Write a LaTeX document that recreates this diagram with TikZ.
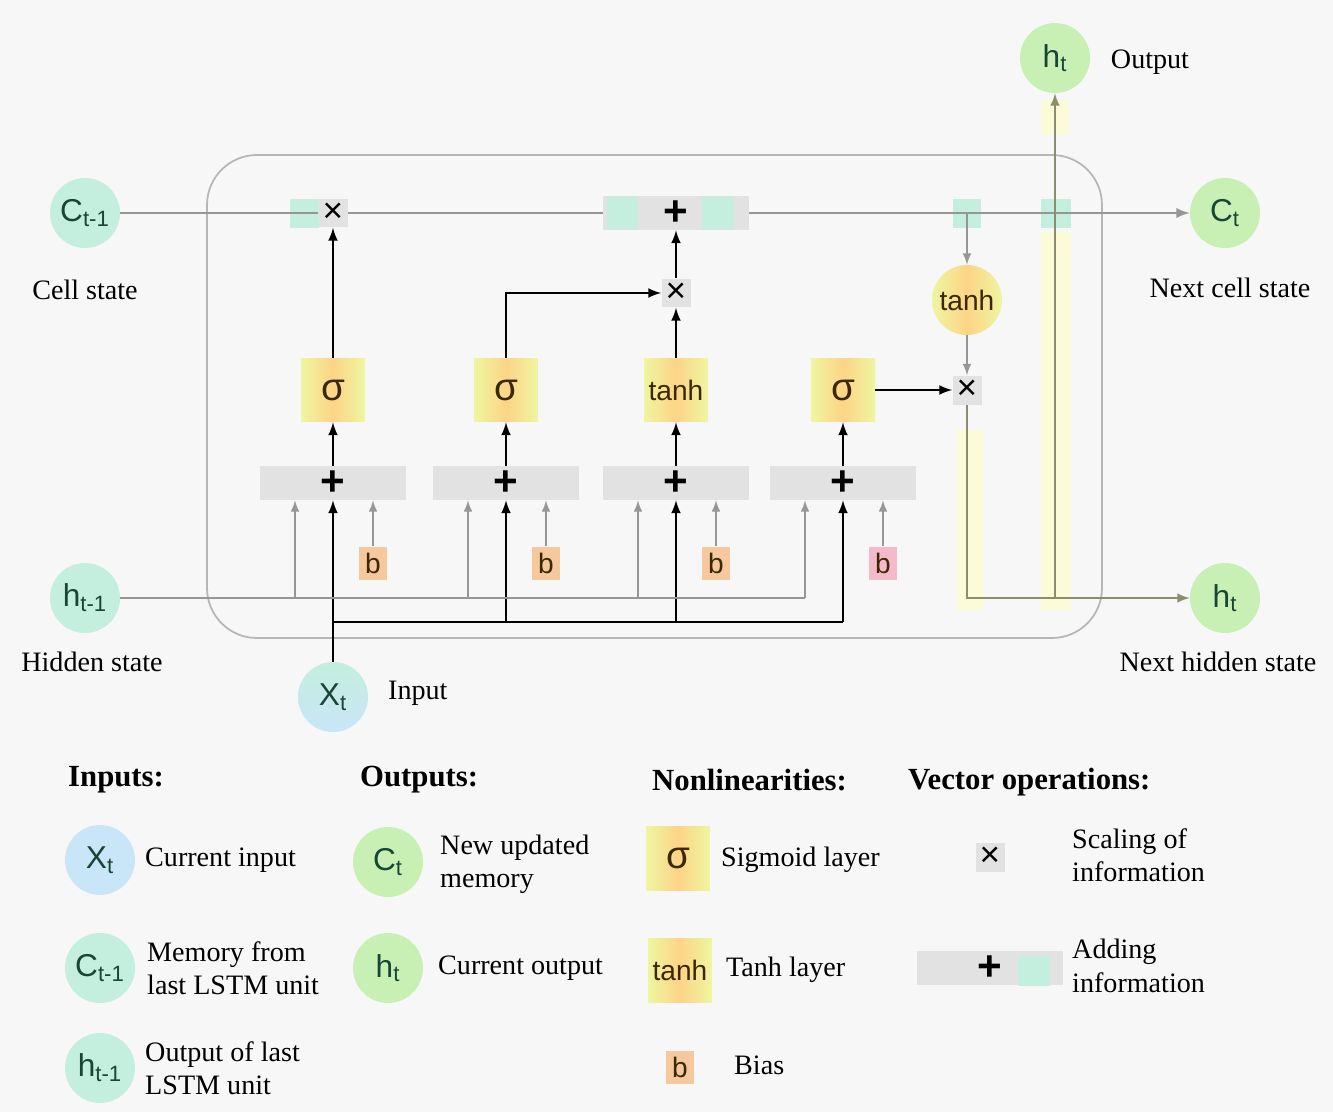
\documentclass[tikz,border=0pt]{standalone}
\usepackage{fontspec}
\setmainfont{Liberation Serif}
\setsansfont{Liberation Sans}
\usetikzlibrary{arrows}
\definecolor{mybg}{RGB}{247,247,247}
\definecolor{mymint}{RGB}{196,238,222}
\definecolor{mygreen}{RGB}{200,240,180}
\definecolor{myblue}{RGB}{200,230,248}
\definecolor{myorange}{RGB}{252,212,135}
\definecolor{myyellow}{RGB}{238,246,160}
\definecolor{mypeach}{RGB}{246,200,158}
\definecolor{mypink}{RGB}{244,186,202}
\definecolor{mygray}{RGB}{226,226,226}
\definecolor{myline}{RGB}{150,150,150}
\definecolor{myolive}{RGB}{140,140,110}
\definecolor{mypale}{RGB}{251,251,215}
\definecolor{mytext}{RGB}{24,70,52}
\definecolor{mybrown}{RGB}{60,40,0}

\begin{document}
\begin{tikzpicture}[x=0.02cm,y=-0.02cm,
  statenode/.style={circle,minimum size=1.4cm,inner sep=0pt,text=mytext,font=\sffamily\fontsize{18}{18}\selectfont},
  gatenode/.style={rectangle,minimum size=1.28cm,inner sep=0pt,left color=myyellow,right color=myyellow,middle color=myorange,text=mybrown,font=\sffamily\fontsize{22}{22}\selectfont},
  tanhfont/.style={font=\sffamily\fontsize{16}{16}\selectfont},
  mulnode/.style={rectangle,minimum size=0.58cm,inner sep=0pt,fill=mygray,font=\sffamily\fontsize{20}{20}\selectfont},
  addnode/.style={rectangle,minimum width=2.92cm,minimum height=0.68cm,inner sep=0pt,fill=mygray,font=\sffamily\bfseries\fontsize{24}{24}\selectfont},
  biasnode/.style={rectangle,minimum width=0.56cm,minimum height=0.66cm,inner sep=0pt,fill=mypeach,text=mybrown,font=\sffamily\fontsize{16}{16}\selectfont},
  lbl/.style={font=\fontsize{16}{19}\selectfont,align=left},
  head/.style={font=\bfseries\fontsize{17.5}{20}\selectfont,anchor=west},
  blackarrow/.style={-latex,line width=1.5pt,black},
  grayarrow/.style={-latex,line width=1.2pt,myline},
  grayline/.style={line width=1.2pt,myline},
  outarrow/.style={-latex,line width=1.4pt,myolive}]
  % background, frame of the cell
  \fill[mybg] (0,0) rectangle (1333,1112);
  \useasboundingbox (0,0) rectangle (1333,1112);
  \draw[myline!70, line width=1pt, rounded corners=1cm] (207,155) rectangle (1102,638);
  \fill[mypale] (957,430) rectangle (983,610);
  \fill[mypale] (1041,232) rectangle (1071,610);
  \fill[mypale] (1041,100) rectangle (1069,135);
  \fill[mymint] (953,199) rectangle (981,228);
  \fill[mymint] (1041,199) rectangle (1071,228);
  \fill[mymint] (290,199) rectangle (319,228);

  % states in and out
  \node[statenode, fill=mymint] (cprev) at (85,213) {C\textsubscript{t-1}};
  \node[statenode, fill=mymint] (hprev) at (85,598) {h\textsubscript{t-1}};
  \node[statenode, top color=mymint, bottom color=myblue] (xt) at (333,697) {X\textsubscript{t}};
  \node[statenode, fill=mygreen] (hout) at (1055,58) {h\textsubscript{t}};
  \node[statenode, fill=mygreen] (cnext) at (1225,213) {C\textsubscript{t}};
  \node[statenode, fill=mygreen] (hnext) at (1225,598) {h\textsubscript{t}};
  \node[lbl] (lcell) at (85,290) {Cell state};
  \node[lbl] (lhid) at (92,662) {Hidden state};
  \node[lbl, anchor=west] (linp) at (382,693) {Input};
  \node[lbl] (lout) at (1150,62) {Output};
  \node[lbl] (lncell) at (1230,288) {Next cell state};
  \node[lbl] (lnhid) at (1218,662) {Next hidden state};

  % operations on the cell state
  \node[mulnode] (mulf) at (333,213) {×};
  \node[addnode] (addc) at (676,213) {+};
  \fill[mymint] (607,197) rectangle (638,229);
  \fill[mymint] (702,197) rectangle (734,229);
  \node[mulnode] (mulc) at (676,293) {×};
  \node[gatenode, circle, minimum size=1.4cm, tanhfont] (tanhc) at (967,300) {tanh};
  \node[mulnode] (mulh) at (967,390) {×};

  % gates
  \node[gatenode] (g1) at (333,390) {σ};
  \node[gatenode] (g2) at (506,390) {σ};
  \node[gatenode, tanhfont] (g3) at (676,390) {tanh};
  \node[gatenode] (g4) at (843,390) {σ};
  \draw[line width=1.5pt] (xt.north) -- (333,622) coordinate (xj);
  \foreach \x/\n/\bc in {333/1/mypeach, 506/2/mypeach, 676/3/mypeach, 843/4/mypink} {
    \node[addnode] (s\n) at (\x,483) {+};
    \node[biasnode, fill=\bc] (b\n) at (\x+40,563) {b};
    \coordinate (hj\n) at (\x-38,598);
    \coordinate (xj\n) at (\x,622);
    \draw[blackarrow] (s\n.north) -- (g\n.south);
    \draw[grayarrow] (b\n.north) -- (b\n.north |- s\n.south);
    \draw[grayarrow] (hj\n) -- (hj\n |- s\n.south);
    \draw[blackarrow] (xj\n) -- (s\n.south);
  }
  \draw[grayline] (hprev.east) -- (hj4);
  \draw[line width=1.5pt] (xj1) -- (xj4);

  \draw[blackarrow] (g1.north) -- (mulf.south);
  \draw[blackarrow] (g2.north) |- (mulc.west);
  \draw[blackarrow] (g3.north) -- (mulc.south);
  \draw[blackarrow] (mulc.north) -- (addc.south);
  \draw[blackarrow] (g4.east) -- (mulh.west);

  % cell state line and output path
  \draw[grayline, line width=1.6pt] (cprev.east) -- (mulf.west);
  \draw[grayline, line width=1.6pt] (mulf.east) -- (addc.west);
  \draw[grayarrow, line width=1.6pt] (addc.east) -- (cnext.west);
  \coordinate (ctap) at (967,213);
  \draw[grayarrow] (ctap) -- (tanhc.north);
  \draw[grayarrow] (tanhc.south) -- (mulh.north);
  \coordinate (hj) at (1055,598);
  \draw[outarrow] (mulh.south) |- (hnext.west);
  \draw[outarrow] (hj) -- (hout.south);

  % legend
  \node[head] (hin) at (62,780) {Inputs:};
  \node[head] (hres) at (354,780) {Outputs:};
  \node[head] (hnon) at (646,780) {Nonlinearities:};
  \node[head] (hvec) at (902,782) {Vector operations:};
  \node[statenode, fill=myblue] (lx) at (100,860) {X\textsubscript{t}};
  \node[lbl, anchor=west] (tx) at (139,860) {Current input};
  \node[statenode, fill=mymint] (lc) at (100,968) {C\textsubscript{t-1}};
  \node[lbl, anchor=west] (tc) at (141,968) {Memory from\\last LSTM unit};
  \node[statenode, fill=mymint] (lh) at (100,1068) {h\textsubscript{t-1}};
  \node[lbl, anchor=west] (th) at (139,1068) {Output of last\\LSTM unit};
  \node[statenode, fill=mygreen] (lct) at (388,862) {C\textsubscript{t}};
  \node[lbl, anchor=west] (tct) at (434,864) {New updated\\memory};
  \node[statenode, fill=mygreen] (lht) at (388,968) {h\textsubscript{t}};
  \node[lbl, anchor=west] (tht) at (432,968) {Current output};
  \node[gatenode] (lsig) at (678,858) {σ};
  \node[lbl, anchor=west] (tsig) at (715,860) {Sigmoid layer};
  \node[gatenode, tanhfont] (ltanh) at (680,970) {tanh};
  \node[lbl, anchor=west] (ttanh) at (720,970) {Tanh layer};
  \node[biasnode] (lb) at (680,1067) {b};
  \node[lbl, anchor=west] (tb) at (728,1065) {Bias};
  \node[mulnode] (lmul) at (990,857) {×};
  \node[lbl, anchor=west] (tmul) at (1066,855) {Scaling of\\information};
  \node[addnode] (ladd) at (990,968) {+};
  \fill[mymint] (1018,956) rectangle (1050,986);
  \node[lbl, anchor=west] (tadd) at (1066,966) {Adding\\information};
\end{tikzpicture}
\end{document}
